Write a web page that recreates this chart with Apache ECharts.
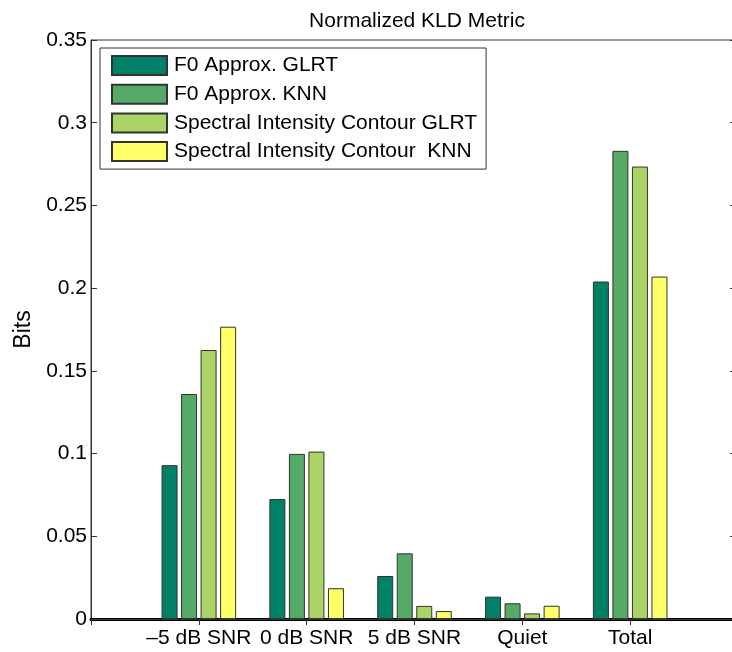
<!DOCTYPE html>
<html>
<head>
<meta charset="utf-8">
<script src="https://cdn.jsdelivr.net/npm/echarts@6/dist/echarts.min.js"></script>
<style>
  html, body { margin: 0; padding: 0; background: #fff; }
  #chart { width: 732px; height: 652px; }
</style>
</head>
<body>
<div id="chart"></div>
<script>
// categories (padded with one empty slot each side, like xlim [0 6])
var groups = ["\u20135 dB SNR", "0 dB SNR", "5 dB SNR", "Quiet", "Total"];
var seriesNames = [
  "F0 Approx. GLRT",
  "F0 Approx. KNN",
  "Spectral Intensity Contour GLRT",
  "Spectral Intensity Contour  KNN"
];
// values (bits)
var f0Glrt = [0.093, 0.0725, 0.026, 0.0135, 0.204];
var f0Knn = [0.136, 0.0998, 0.0397, 0.0095, 0.283];
var sicGlrt = [0.1626, 0.1012, 0.0079, 0.0034, 0.2735];
var sicKnn = [0.1767, 0.0186, 0.0048, 0.008, 0.207];
var yTicks = [0, 0.05, 0.1, 0.15, 0.2, 0.25, 0.3, 0.35];

// matlab "summer" colours
var colors = ["#008066", "#55aa66", "#aad466", "#ffff66"];
var font = "Liberation Sans, Arial, Helvetica, sans-serif";

var cats = [""].concat(groups, [""]);
function pad(arr) {
  return [null].concat(arr, [null]);
}

var allData = [f0Glrt, f0Knn, sicGlrt, sicKnn];
var series = allData.map(function (d, i) {
  return {
    name: seriesNames[i],
    type: "bar",
    xAxisIndex: 0,
    yAxisIndex: 0,
    barWidth: 16,
    barGap: "22%",
    itemStyle: { color: colors[i], borderColor: "#333", borderWidth: 1 },
    data: pad(d)
  };
});

var myChart = echarts.init(document.getElementById("chart"));
var option = {
  animation: false,
  textStyle: { fontFamily: font },
  title: {
    text: "Normalized KLD Metric",
    left: 412,
    textAlign: "center",
    top: 6,
    textStyle: { fontFamily: font, fontSize: 21, fontWeight: "normal", color: "#000" }
  },
  legend: {
    orient: "vertical",
    left: 100,
    top: 48,
    padding: [7, 9, 7, 11],
    itemWidth: 55,
    itemHeight: 19,
    itemGap: 7.7,
    icon: "rect",
    backgroundColor: "#fff",
    borderColor: "#333",
    borderWidth: 1,
    textStyle: { fontFamily: font, fontSize: 21, color: "#000", lineHeight: 19, padding: [0, 0, 0, 2] },
    data: seriesNames
  },
  // axes run a bit past the right edge of the picture
  grid: {
    left: 91,
    top: 40,
    width: 647,
    height: 579,
    outerBoundsMode: "none",
    containLabel: false,
    show: true,
    borderColor: "#333",
    borderWidth: 1
  },
  xAxis: [
    {
      type: "category",
      data: cats,
      boundaryGap: false,
      position: "bottom",
      axisLine: { lineStyle: { color: "#000", width: 3 } },
      axisTick: { show: false },
      axisLabel: { fontFamily: font, fontSize: 21, color: "#000", margin: 9, interval: 0 }
    },
    {
      type: "category",
      data: cats,
      boundaryGap: false,
      position: "top",
      axisLine: { show: true, lineStyle: { color: "#333", width: 1 } },
      axisTick: { show: true, inside: true, length: 6, lineStyle: { color: "#333" } },
      axisLabel: { show: false }
    }
  ],
  yAxis: [
    {
      type: "value",
      min: yTicks[0],
      max: yTicks[yTicks.length - 1],
      interval: 0.05,
      name: "Bits",
      nameLocation: "middle",
      nameGap: 52,
      nameTextStyle: { fontFamily: font, fontSize: 23, color: "#000" },
      axisLine: { show: true, lineStyle: { color: "#333" } },
      axisTick: { show: true, inside: true, length: 6, lineStyle: { color: "#333" } },
      splitLine: { show: false },
      axisLabel: { fontFamily: font, fontSize: 21, color: "#000", margin: 4 }
    },
    {
      type: "value",
      min: yTicks[0],
      max: yTicks[yTicks.length - 1],
      interval: 0.05,
      position: "right",
      axisLine: { show: true, lineStyle: { color: "#333" } },
      axisTick: { show: true, inside: true, length: 8, lineStyle: { color: "#333" } },
      splitLine: { show: false },
      axisLabel: { show: false }
    }
  ],
  series: series
};
myChart.setOption(option);
</script>
</body>
</html>
